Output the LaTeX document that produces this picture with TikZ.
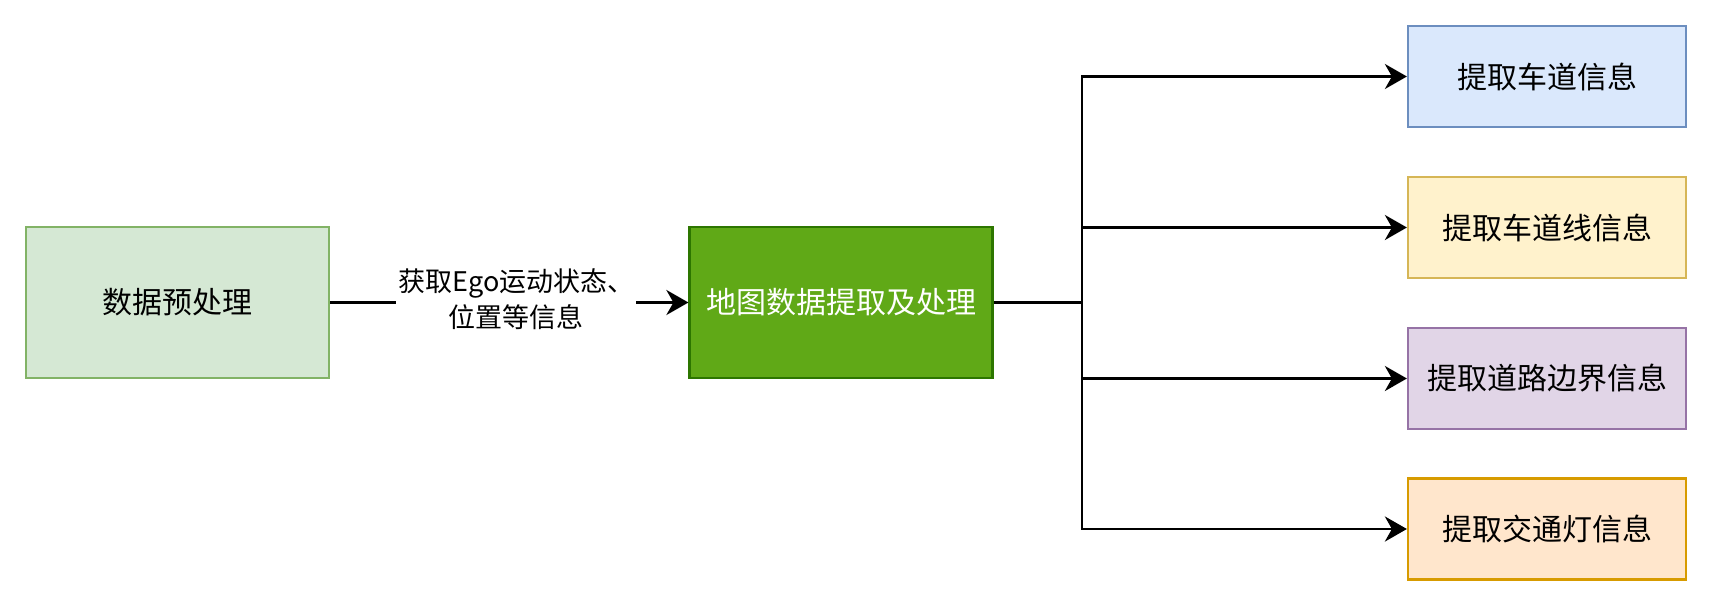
\documentclass[tikz,border=0pt]{standalone}
\usepackage{fontspec}
\setmainfont{Noto Sans CJK SC}
\usetikzlibrary{arrows.meta}
\definecolor{gfill}{HTML}{D5E8D4}\definecolor{gline}{HTML}{82B366}
\definecolor{mfill}{HTML}{60A917}\definecolor{mline}{HTML}{2D7600}
\definecolor{bfill}{HTML}{DAE8FC}\definecolor{bline}{HTML}{6C8EBF}
\definecolor{yfill}{HTML}{FFF2CC}\definecolor{yline}{HTML}{D6B656}
\definecolor{pfill}{HTML}{E1D5E7}\definecolor{pline}{HTML}{9673A6}
\definecolor{ofill}{HTML}{FFE6CC}\definecolor{oline}{HTML}{D79B00}
\tikzset{
  box/.style={draw, rectangle, line width=2.2pt, inner sep=0pt, align=center,
    font=\fontsize{30}{36}\selectfont},
  bigbox/.style={box, minimum width=303pt, minimum height=151pt},
  smallbox/.style={box, minimum width=278pt, minimum height=101pt},
  conn/.style={line width=2.8pt, -{Stealth[length=22pt, width=25pt, inset=7pt]}},
  plain/.style={line width=2.8pt},
  elabel/.style={fill=white, inner sep=2pt, align=center,
    font=\fontsize{27}{36}\selectfont}
}
\begin{document}
\begin{tikzpicture}[x=1pt, y=-1pt]
\useasboundingbox (0,0) rectangle (1712,606);
\node[bigbox, fill=gfill, draw=gline] (pre) at (177.5,302.5) {数据预处理};
\node[bigbox, fill=mfill, draw=mline, text=white] (map) at (841,302.5) {地图数据提取及处理};
\node[smallbox, fill=bfill, draw=bline] (lane) at (1547,76.5) {提取车道信息};
\node[smallbox, fill=yfill, draw=yline] (line) at (1547,227.5) {提取车道线信息};
\node[smallbox, fill=pfill, draw=pline] (bound) at (1547,378.5) {提取道路边界信息};
\node[smallbox, fill=ofill, draw=oline] (light) at (1547,529) {提取交通灯信息};
\coordinate (trunk) at (1082,302.5);
\draw[conn] (pre) -- node[elabel, pos=0.52, yshift=3pt] {获取Ego运动状态、\\位置等信息} (map);
\draw[plain] (map.east) -- (trunk);
\draw[conn] (trunk) |- (lane.west);
\draw[conn] (trunk) |- (line.west);
\draw[conn] (trunk) |- (bound.west);
\draw[conn] (trunk) |- (light.west);
\end{tikzpicture}
\end{document}
